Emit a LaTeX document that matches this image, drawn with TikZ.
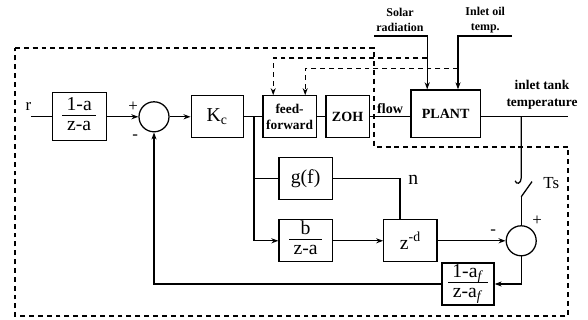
\documentclass[tikz,border=0pt]{standalone}
\usepackage{amsmath}
\usepackage{fontspec}
\setmainfont{Liberation Serif}
\usetikzlibrary{arrows.meta, calc}
\newcommand{\ratio}[2]{{\renewcommand{\arraystretch}{0.8}\setlength{\arrayrulewidth}{0.8pt}%
  \begin{tabular}{@{\hspace{3pt}}c@{\hspace{3pt}}}#1\\[-1pt]\hline\rule{0pt}{10.5pt}#2\end{tabular}}}

\begin{document}
\begin{tikzpicture}[>={Stealth[length=5pt,width=3.6pt]}, line width=0.9pt,
  blk/.style={draw, minimum width=1.33cm, minimum height=1.05cm, inner sep=1pt, font=\fontsize{14}{16}\selectfont},
  summ/.style={draw, circle, minimum size=0.75cm, inner sep=0pt},
  lbl/.style={font=\fontsize{10}{11}\selectfont\bfseries, inner sep=1pt},
  sml/.style={font=\fontsize{8.5}{10.5}\selectfont\bfseries, align=center, inner sep=0pt},
  sgn/.style={font=\fontsize{12}{13}\selectfont, inner sep=0pt},
  meas/.style={dash pattern=on 3.5pt off 2.8pt}]
\useasboundingbox (0,0) rectangle (14.7,8);
% Outer loop boundary
\draw[meas, line width=1.1pt] (0.375,6.8) -- (9.35,6.8) -- (9.35,4.33) -- (14.2,4.33) -- (14.2,0.1) -- (0.375,0.1) -- cycle;
% Forward path
\node[sgn] (r) at (0.71,5.34) {r};
\coordinate (rin) at (0.77,5.08);
\node[blk, minimum width=1.35cm, minimum height=1.2cm] (pre) at (1.98,5.08) {\ratio{1-a}{z-a}};
\node[summ] (s1) at (3.85,5.08) {};
\node[blk, minimum width=1.3cm] (kc) at (5.43,5.08) {K\textsubscript{c}};
\node[blk, font=\fontsize{9.5}{11}\selectfont\bfseries, align=center] (ff) at (7.24,5.08) {feed-\\forward};
\node[blk, minimum width=1.08cm, font=\fontsize{10}{11}\selectfont\bfseries] (zoh) at (8.69,5.08) {ZOH};
\node[blk, minimum width=1.73cm, minimum height=1.18cm, font=\fontsize{10}{11}\selectfont\bfseries] (plant) at (11.14,5.16) {PLANT};
\coordinate (br1) at (6.35,5.08);
\coordinate (br2) at (13.03,5.08);
\coordinate (out) at (14.2,5.08);
\draw (rin) -- (pre);
\draw[->] (pre) -- (s1);
\draw[->] (s1) -- (kc);
\draw (kc) -- (ff);
\draw (ff) -- (zoh);
\draw (zoh.east) -- (zoh.east -| plant.west) node[lbl, midway, above=1pt] {flow};
\draw (plant.east |- out) -- (out);
\node[lbl, align=center, font=\fontsize{9.5}{12.5}\selectfont\bfseries] (tank) at (13.55,5.63) {inlet tank\\temperature};
% Disturbances
\node[sml] (solar) at (10.0,7.5) {Solar\\radiation};
\coordinate (solA) at (9.35,7.1);
\coordinate (solB) at (10.68,7.1);
\draw[->] (solA) -- (solB) -- (solB |- plant.north);
\node[sml] (oil) at (12.13,7.5) {Inlet oil\\temp.};
\coordinate (oilA) at (11.45,7.1);
\coordinate (oilB) at (12.8,7.1);
\draw[->] (oilB) -- (oilA) -- (oilA |- plant.north);
% Measured disturbances to feedforward
\coordinate (ffA) at (6.83,6.55);
\coordinate (ffB) at (7.63,6.28);
\draw[meas, ->] (solB |- ffA) -- (ffA) -- (ffA |- ff.north);
\draw[meas, ->] (oilA |- ffB) -- (ffB) -- (ffB |- ff.north);
% Model branch
\node[blk] (gf) at (7.64,3.54) {g(f)};
\node[blk] (bza) at (7.64,1.98) {\ratio{b}{z-a}};
\node[blk] (zd) at (10.26,1.98) {z\textsuperscript{-d}};
\coordinate (nc) at (10.0,3.54);
\draw[->] (br1) -- (br1 |- bza) -- (bza);
\draw (br1 |- gf) -- (gf);
\draw (gf) -- (nc) -- (nc |- zd.north);
\node[sgn, font=\fontsize{14}{16}\selectfont] (n) at (10.33,3.5) {n};
\draw[->] (bza) -- (zd);
\node[summ] (s2) at (13.03,1.98) {};
\draw[->] (zd) -- (s2);
% Sampler
\coordinate (swA) at (13.03,3.55);
\coordinate (swB) at (13.03,3.08);
\draw (br2) -- (swA) .. controls (13.03,3.40) and (12.90,3.38) .. (12.88,3.48);
\draw (swB) -- (13.3,3.46);
\draw (swB) -- (s2);
\node[sgn] (ts) at (13.78,3.42) {Ts};
% Signs
\node[sgn] (p1) at (3.33,5.33) {+};
\node[sgn] (m1) at (3.38,4.58) {-};
\node[sgn] (m2) at (12.33,2.2) {-};
\node[sgn] (p2) at (13.43,2.48) {+};
% Filter and feedback
\node[blk, minimum width=1.3cm] (filt) at (11.7,0.9) {\ratio{1-a\textsubscript{\textit{f}}}{z-a\textsubscript{\textit{f}}}};
\draw[->] (s2) -- (s2 |- filt) -- (filt);
\draw[->] (filt) -- (s1 |- filt) -- (s1);
\end{tikzpicture}
\end{document}
